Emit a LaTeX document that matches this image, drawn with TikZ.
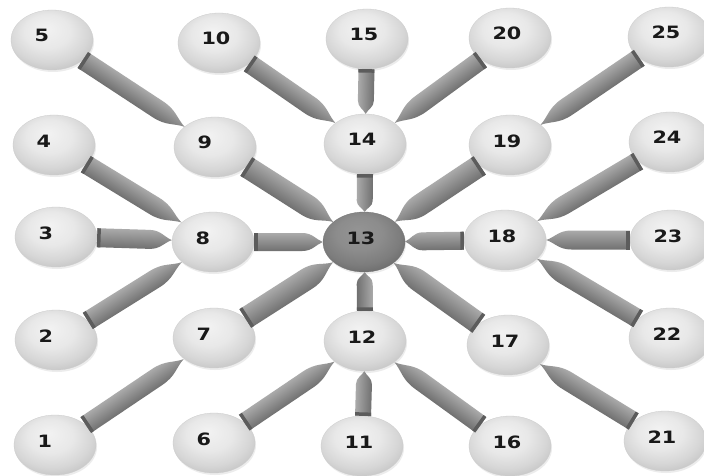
\documentclass[tikz,border=0pt]{standalone}
\usepackage{fontspec}
\usepackage{graphicx}
\newfontfamily\numfont{DejaVu Sans}
\usetikzlibrary{shapes.geometric,shadows}
\definecolor{barlight}{RGB}{170,170,170}
\definecolor{bardark}{RGB}{112,112,112}
\definecolor{barcap}{RGB}{92,92,92}
\pgfdeclareradialshading{nodeball}{\pgfpoint{-4bp}{10bp}}{color(0bp)=(white!95!black); color(14bp)=(white!91!black); color(24bp)=(white!84!black); color(32bp)=(white!76!black); color(50bp)=(white!75!black)}
\pgfdeclareradialshading{nodedark}{\pgfpoint{-4bp}{10bp}}{color(0bp)=(white!58!black); color(14bp)=(white!55!black); color(24bp)=(white!49!black); color(32bp)=(white!41!black); color(50bp)=(white!40!black)}
\tikzset{
  ballnode/.style={ellipse, minimum width=82pt, minimum height=60pt, inner sep=0pt,
    shade, shading=nodeball, draw=white!80!black, line width=0.3pt,
    drop shadow={shadow xshift=1pt, shadow yshift=-2pt, opacity=0.15},
    font=\numfont\bfseries\fontsize{17}{20}\selectfont, text=black!90,
    text height=9pt, text depth=5pt},
  centernode/.style={ballnode, shading=nodedark, draw=white!45!black},
  barshade/.style={top color=barlight, bottom color=bardark},
}
\newcommand\lbl[1]{\makebox[35pt][l]{\scalebox{1.22}[1]{#1}}}
\newcommand\conn[3][9.5]{%
  \pgfpointdiff{\pgfpointanchor{#2}{center}}{\pgfpointanchor{#3}{center}}%
  \pgfgetlastxy{\cdx}{\cdy}%
  \pgfmathsetmacro\cang{atan2(\cdy,\cdx)}%
  \pgfmathsetmacro\cangb{\cang+180}%
  \pgfpointdiff{\pgfpointanchor{#2}{\cang}}{\pgfpointanchor{#3}{\cangb}}%
  \pgfgetlastxy{\cdx}{\cdy}%
  \pgfmathsetmacro\clen{veclen(\cdx,\cdy)}%
  \pgfmathsetmacro\ctap{min(0.3*\clen,32)}%
  \pgfmathsetmacro\cflip{cos(\cang)<-0.01 ? -1 : 1}%
  \begin{scope}[transform canvas={shift={(#2.\cang)}, rotate=\cang, yscale=\cflip}]
    \shade[barshade] (0,{-#1}) -- ({\clen-\ctap},{-#1})
      .. controls ({\clen-0.5*\ctap},{-#1}) and ({\clen-0.35*\ctap},{-0.3*#1}) .. (\clen,0)
      .. controls ({\clen-0.35*\ctap},{0.3*#1}) and ({\clen-0.5*\ctap},#1) .. ({\clen-\ctap},#1)
      -- (0,#1) -- cycle;
    \fill[barcap] (0,{-#1}) rectangle (3.5,#1);
  \end{scope}}
\begin{document}
\begin{tikzpicture}[x=1pt,y=-1pt]
\fill[white] (0,0) rectangle (704,476);
\useasboundingbox (0,0) rectangle (704,476);
% column 1
\node[ballnode] (n1) at (55,445) {\lbl{1}};
\node[ballnode] (n2) at (56,340) {\lbl{2}};
\node[ballnode] (n3) at (56,237) {\lbl{3}};
\node[ballnode] (n4) at (54,145) {\lbl{4}};
\node[ballnode] (n5) at (52,40) {\lbl{5}};
% column 2
\node[ballnode] (n6) at (214,443) {\lbl{6}};
\node[ballnode] (n7) at (214,338) {\lbl{7}};
\node[ballnode] (n8) at (213,242) {\lbl{8}};
\node[ballnode] (n9) at (215,147) {\lbl{9}};
\node[ballnode] (n10) at (219,43) {\lbl{10}};
% column 3
\node[ballnode] (n11) at (362,446) {\lbl{11}};
\node[ballnode] (n12) at (365,341) {\lbl{12}};
\node[centernode] (n13) at (364,242) {\lbl{13}};
\node[ballnode] (n14) at (365,144) {\lbl{14}};
\node[ballnode] (n15) at (367,39) {\lbl{15}};
% column 4
\node[ballnode] (n16) at (510,446) {\lbl{16}};
\node[ballnode] (n17) at (508,345) {\lbl{17}};
\node[ballnode] (n18) at (505,240) {\lbl{18}};
\node[ballnode] (n19) at (510,145) {\lbl{19}};
\node[ballnode] (n20) at (510,38) {\lbl{20}};
% column 5
\node[ballnode] (n21) at (665,441) {\lbl{21}};
\node[ballnode] (n22) at (670,338) {\lbl{22}};
\node[ballnode] (n23) at (671,240) {\lbl{23}};
\node[ballnode] (n24) at (670,142) {\lbl{24}};
\node[ballnode] (n25) at (669,37) {\lbl{25}};
% outer connectors
\conn{n5}{n9}
\conn{n4}{n8}
\conn{n3}{n8}
\conn{n2}{n8}
\conn{n1}{n7}
\conn{n10}{n14}
\conn[8]{n15}{n14}
\conn{n20}{n14}
\conn{n25}{n19}
\conn{n24}{n18}
\conn{n23}{n18}
\conn{n22}{n18}
\conn{n21}{n17}
\conn{n16}{n12}
\conn[8]{n11}{n12}
\conn{n6}{n12}
% inner connectors
\conn[11]{n9}{n13}
\conn[8]{n14}{n13}
\conn[11]{n19}{n13}
\conn[9]{n8}{n13}
\conn[9]{n18}{n13}
\conn[11]{n7}{n13}
\conn[8]{n12}{n13}
\conn[11]{n17}{n13}
\end{tikzpicture}
\end{document}
